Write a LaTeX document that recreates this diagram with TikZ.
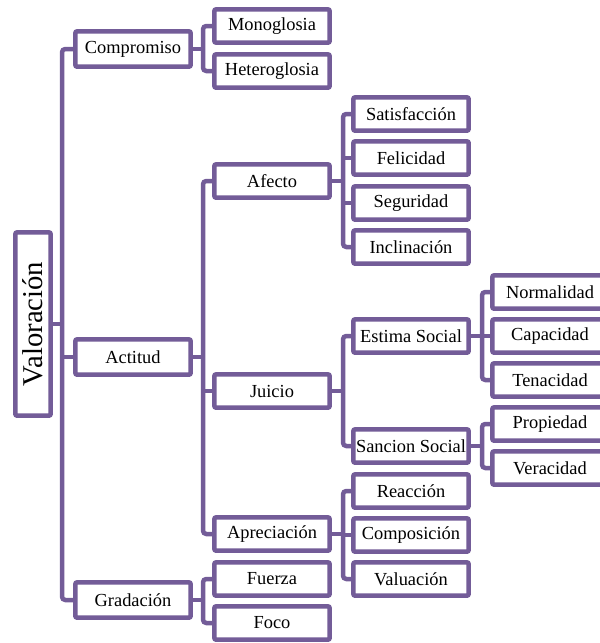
\documentclass[tikz,border=0pt]{standalone}
\usepackage{fontspec}
\setmainfont{Liberation Serif}
\definecolor{vpurple}{HTML}{735C98}
\begin{document}
\begin{tikzpicture}[x=0.75pt,y=-0.75pt,
  box/.style={draw=vpurple, line width=3.375pt, fill=white, rounded corners=1.5pt,
    inner sep=0pt, minimum width=86.6pt, minimum height=25.1pt,
    font=\fontsize{13.8}{16}\selectfont},
  tall/.style={minimum height=26.6pt},
  conn/.style={draw=vpurple, line width=3.375pt, rounded corners=2.5pt}]
\useasboundingbox (0,0) rectangle (600,643);

% root
\node[box, rotate=90, minimum width=137.6pt, minimum height=26.6pt,
      font=\fontsize{21.5}{24}\selectfont] (val) at (33,324) {Valoración};

% first level
\node[box, tall] (comp) at (133,49)  {Compromiso};
\node[box, tall] (act)  at (133,357) {Actitud};
\node[box, tall] (grad) at (133,600) {Gradación};

% second level
\node[box] (mono) at (272,26)  {Monoglosia};
\node[box] (hete) at (272,71)  {Heteroglosia};
\node[box] (afec) at (272,181) {Afecto};
\node[box] (juic) at (272,391) {Juicio};
\node[box] (apre) at (272,534) {Apreciación};
\node[box] (fuer) at (272,579) {Fuerza};
\node[box] (foco) at (272,623) {Foco};

% third level
\node[box] (sati) at (411,114) {Satisfacción};
\node[box] (feli) at (411,158) {Felicidad};
\node[box] (segu) at (411,203) {Seguridad};
\node[box] (incl) at (411,247) {Inclinación};
\node[box] (esti) at (411,336) {Estima Social};
\node[box] (sanc) at (411,446) {Sancion Social};
\node[box] (reac) at (411,491) {Reacción};
\node[box] (comp3) at (411,535) {Composición};
\node[box] (valu) at (411,579) {Valuación};

% fourth level
\node[box] (norm) at (550,292) {Normalidad};
\node[box] (capa) at (550,336) {Capacidad};
\node[box] (tena) at (550,380) {Tenacidad};
\node[box] (prop) at (550,424) {Propiedad};
\node[box] (vera) at (550,468) {Veracidad};

% connectors: parent stub, bus with rounded ends, middle stubs
% Valoración
\coordinate (b0) at (62,0);
\draw[conn] (val.south) -- (val.south -| b0);
\draw[conn] (comp.west) -| (b0 |- act.west) |- (grad.west);
\draw[conn] (act.west) -- (act.west -| b0);

% Compromiso
\coordinate (b1) at (203,0);
\draw[conn] (comp.east) -- (comp.east -| b1);
\draw[conn] (mono.west) -| (b1 |- comp.east) |- (hete.west);

% Actitud
\draw[conn] (act.east) -- (act.east -| b1);
\draw[conn] (afec.west) -| (b1 |- act.east) |- (apre.west);
\draw[conn] (juic.west) -- (juic.west -| b1);

% Gradación
\draw[conn] (grad.east) -- (grad.east -| b1);
\draw[conn] (fuer.west) -| (b1 |- grad.east) |- (foco.west);

% Afecto
\coordinate (b2) at (343,0);
\draw[conn] (afec.east) -- (afec.east -| b2);
\draw[conn] (sati.west) -| (b2 |- afec.east) |- (incl.west);
\draw[conn] (feli.west) -- (feli.west -| b2);
\draw[conn] (segu.west) -- (segu.west -| b2);

% Juicio
\draw[conn] (juic.east) -- (juic.east -| b2);
\draw[conn] (esti.west) -| (b2 |- juic.east) |- (sanc.west);

% Apreciación
\draw[conn] (apre.east) -- (apre.east -| b2);
\draw[conn] (reac.west) -| (b2 |- apre.east) |- (valu.west);
\draw[conn] (comp3.west) -- (comp3.west -| b2);

% Estima Social
\coordinate (b3) at (482,0);
\draw[conn] (esti.east) -- (esti.east -| b3);
\draw[conn] (norm.west) -| (b3 |- esti.east) |- (tena.west);
\draw[conn] (capa.west) -- (capa.west -| b3);

% Sancion Social
\draw[conn] (sanc.east) -- (sanc.east -| b3);
\draw[conn] (prop.west) -| (b3 |- sanc.east) |- (vera.west);
\end{tikzpicture}
\end{document}
